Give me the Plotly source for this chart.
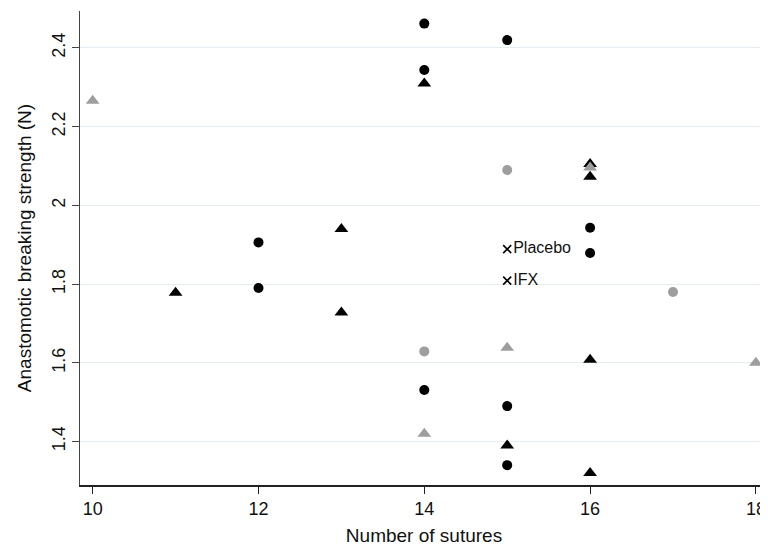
import plotly.graph_objects as go

# Data
bc_x = [12, 12, 14, 14, 14, 15, 15, 15, 16, 16]           # black circles
bc_y = [1.906, 1.790, 2.462, 2.344, 1.531, 2.420, 1.490, 1.340, 1.943, 1.879]
bt_x = [11, 13, 13, 14, 15, 16, 16, 16, 16]                # black triangles
bt_y = [1.778, 1.940, 1.728, 2.310, 1.390, 2.105, 2.073, 1.608, 1.320]
gc_x = [14, 15, 17]                                        # grey circles
gc_y = [1.629, 2.090, 1.780]
gt_x = [10, 14, 15, 16, 18]                                # grey triangles
gt_y = [2.266, 1.420, 1.638, 2.096, 1.600]
leg_x = [15, 15]
leg_y = [1.889, 1.809]
leg_text = ["Placebo", "IFX"]

x_ticks = [10, 12, 14, 16, 18]
y_ticks = [1.4, 1.6, 1.8, 2.0, 2.2, 2.4]
y_tick_text = ["1.4", "1.6", "1.8", "2", "2.2", "2.4"]

FONT = "Liberation Sans, Arial, Helvetica, sans-serif"
BLACK = "#000000"
GREY = "#9e9e9e"

fig = go.Figure()
fig.add_trace(go.Scatter(x=bt_x[:5] + bt_x[6:], y=bt_y[:5] + bt_y[6:], mode="markers",
                         marker=dict(symbol="triangle-up", size=12, color=BLACK),
                         showlegend=False))
# top black triangle at 16 (partly covered by the grey one)
fig.add_trace(go.Scatter(x=[bt_x[5]], y=[bt_y[5]], mode="markers",
                         marker=dict(symbol="triangle-up", size=12, color=BLACK),
                         showlegend=False))
fig.add_trace(go.Scatter(x=gt_x, y=gt_y, mode="markers",
                         marker=dict(symbol="triangle-up", size=12, color=GREY),
                         showlegend=False))
fig.add_trace(go.Scatter(x=bc_x, y=bc_y, mode="markers",
                         marker=dict(symbol="circle", size=10, color=BLACK),
                         showlegend=False))
fig.add_trace(go.Scatter(x=gc_x, y=gc_y, mode="markers",
                         marker=dict(symbol="circle", size=10, color=GREY),
                         showlegend=False))
fig.add_trace(go.Scatter(x=leg_x, y=leg_y, mode="markers+text", text=leg_text,
                         textposition="middle right",
                         textfont=dict(family=FONT, size=16, color="#111111"),
                         marker=dict(symbol="x-thin", size=8,
                                     line=dict(width=1.6, color=BLACK)),
                         showlegend=False))

# the page body adds an 8px offset, so the figure is 760x540
fig.update_layout(
    width=760, height=540,
    margin=dict(l=72, r=0, t=3, b=63, autoexpand=False),
    paper_bgcolor="white", plot_bgcolor="white",
    font=dict(family=FONT, color="#111111"),
    showlegend=False,
)
fig.update_xaxes(
    range=[9.847, 18.146], tickvals=x_ticks, ticktext=[str(v) for v in x_ticks],
    automargin=False,
    showgrid=False, zeroline=False, showline=True, linecolor="#222222", linewidth=1.5,
    ticks="outside", ticklen=7, tickcolor="#222222", tickwidth=1,
    tickfont=dict(family=FONT, size=18, color="#111111"),
    title=dict(text="Number of sutures", font=dict(family=FONT, size=19, color="#111111"),
               standoff=10),
)
fig.update_yaxes(
    range=[1.2895, 2.494], tickvals=y_ticks, ticktext=y_tick_text, tickangle=-90,
    automargin=False,
    showgrid=True, gridcolor="#e6edf0", gridwidth=1.2, zeroline=False,
    showline=True, linecolor="#444444", linewidth=1.2,
    ticks="outside", ticklen=7, tickcolor="#444444", tickwidth=1,
    tickfont=dict(family=FONT, size=18, color="#111111"),
    title=dict(text="Anastomotic breaking strength (N)",
               font=dict(family=FONT, size=19, color="#111111"), standoff=12),
)

fig.write_html("out.html")
